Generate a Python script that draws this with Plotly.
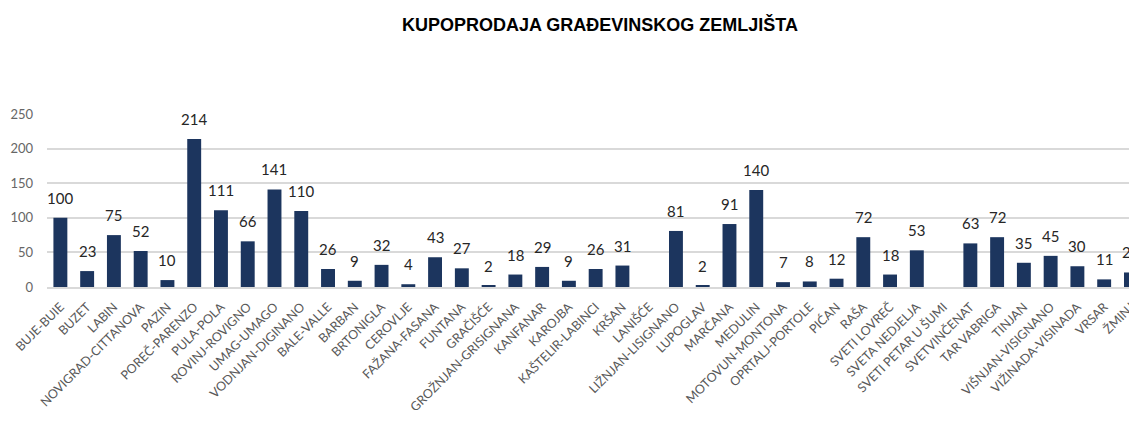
import plotly.graph_objects as go

categories = [
    "BUJE-BUIE", "BUZET", "LABIN", "NOVIGRAD-CITTANOVA", "PAZIN", "POREČ-PARENZO",
    "PULA-POLA", "ROVINJ-ROVIGNO", "UMAG-UMAGO", "VODNJAN-DIGINANO", "BALE-VALLE",
    "BARBAN", "BRTONIGLA", "CEROVLJE", "FAŽANA-FASANA", "FUNTANA", "GRAČIŠĆE",
    "GROŽNJAN-GRISIGNANA", "KANFANAR", "KAROJBA", "KAŠTELIR-LABINCI", "KRŠAN",
    "LANIŠĆE", "LIŽNJAN-LISIGNANO", "LUPOGLAV", "MARČANA", "MEDULIN",
    "MOTOVUN-MONTONA", "OPRTALJ-PORTOLE", "PIĆAN", "RAŠA", "SVETI LOVREČ",
    "SVETA NEDJELJA", "SVETI PETAR U ŠUMI", "SVETVINČENAT", "TAR VABRIGA", "TINJAN",
    "VIŠNJAN-VISIGNANO", "VIŽINADA-VISINADA", "VRSAR", "ŽMINJ",
]
values = [
    100, 23, 75, 52, 10, 214,
    111, 66, 141, 110, 26,
    9, 32, 4, 43, 27, 2,
    18, 29, 9, 26, 31,
    None, 81, 2, 91, 140,
    7, 8, 12, 72, 18,
    53, None, 63, 72, 35,
    45, 30, 11, 21,
]
y_ticks = [0, 50, 100, 150, 200, 250]
title_text = "KUPOPRODAJA GRAĐEVINSKOG ZEMLJIŠTA"

bar_color = "#1C355E"

fig = go.Figure()
fig.add_trace(go.Bar(
    x=categories,
    y=[v if v is not None else 0 for v in values],
    marker=dict(color=bar_color, line=dict(width=0)),
    hoverinfo="x+y",
))

annotations = []
for c, v in zip(categories, values):
    if v is None:
        continue
    annotations.append(dict(
        x=c, y=v, xref="x", yref="y", text=str(v), showarrow=False,
        yanchor="bottom", xanchor="center", yshift=9,
        font=dict(family="Lato", size=15, color="#262626"),
    ))

# page has an 8px body margin; figure is sized to end at the window edge
fig.update_layout(
    width=1129, height=416,
    paper_bgcolor="white", plot_bgcolor="white",
    margin=dict(l=39, r=0, t=106, b=137),
    bargap=0.48,
    showlegend=False,
    title=dict(
        text="<b>" + title_text + "</b>",
        x=592 / 1129, xanchor="center", xref="container",
        y=1 - 17 / 416, yanchor="middle", yref="container",
        font=dict(family="Liberation Sans Narrow, Liberation Sans, Arial", size=18, color="#000000"),
    ),
    annotations=annotations,
)
fig.update_xaxes(
    type="category",
    range=[-0.5, 40.04],
    tickangle=-45,
    tickfont=dict(family="Lato", size=12.5, color="#595959"),
    showgrid=False,
    showline=True, linecolor="#d9d9d9", linewidth=1.5,
    ticks="", ticklabelstandoff=6,
)
fig.update_yaxes(
    range=[0, 250],
    tickvals=y_ticks,
    tickfont=dict(family="Lato", size=13, color="#666666"),
    showgrid=True, gridcolor="#d9d9d9", gridwidth=1.5,
    zeroline=False,
    ticks="", ticklabelstandoff=13,
)

fig.write_html("out.html")
